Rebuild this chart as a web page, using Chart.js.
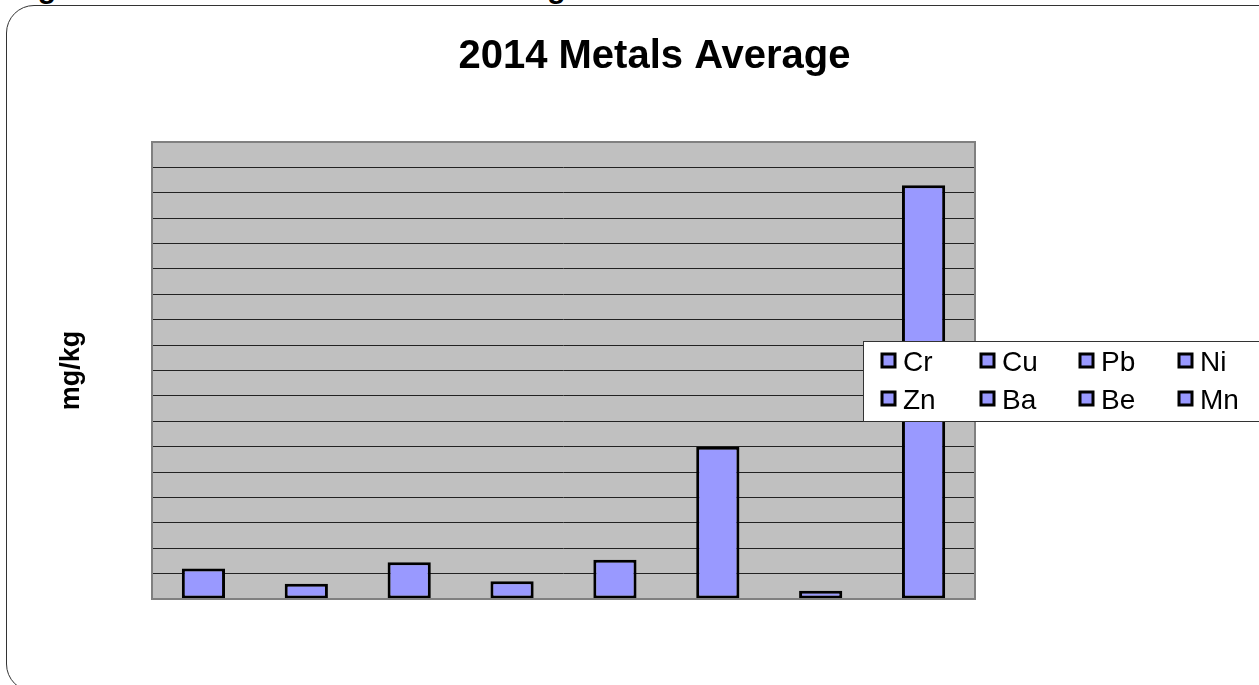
<!DOCTYPE html>
<html>
<head>
<meta charset="utf-8">
<script src="https://cdn.jsdelivr.net/npm/chart.js@4"></script>
<style>
  html, body { margin: 0; padding: 0; background: #fff; overflow: hidden; }
  body { width: 1259px; height: 685px; position: relative; font-family: Arial, 'Liberation Sans', sans-serif; }
  #caption { position: absolute; left: 11px; top: -29px; font-weight: bold; font-size: 30px; white-space: nowrap; color: #000; }
  #frame { position: absolute; left: 6px; top: 5px; width: 1300px; height: 687px; border: 1px solid #333; border-radius: 28px; box-sizing: border-box; }
  #wrap { position: absolute; left: 0; top: 0; width: 1259px; height: 685px; }
</style>
</head>
<body>
<div id="caption">Figure 6: 2014 Sediment Metals Averages</div>
<div id="frame"></div>
<div id="wrap"><canvas id="grafico"></canvas></div>
<script>
// dados
var metais = ['Cr', 'Cu', 'Pb', 'Ni', 'Zn', 'Ba', 'Be', 'Mn'];
var medias = [24, 12, 29, 14, 31, 120, 6.5, 326]; // mg/kg
var escalaMax = 360;
var escalaPasso = 20;

var corBarra = '#9999FF';

// fundo cinza da area do grafico + borda
var fundoPlot = {
    id: 'fundoPlot',
    beforeDraw: function (chart) {
        var a = chart.chartArea, ctx = chart.ctx;
        ctx.save();
        ctx.fillStyle = '#C0C0C0';
        ctx.fillRect(a.left, a.top, a.right - a.left, a.bottom - a.top);
        ctx.restore();
    },
    afterDatasetsDraw: function (chart) {
        var a = chart.chartArea, ctx = chart.ctx;
        ctx.save();
        ctx.strokeStyle = '#808080';
        ctx.lineWidth = 2;
        ctx.strokeRect(a.left, a.top, a.right - a.left, a.bottom - a.top);
        ctx.restore();
    }
};

// legenda sobreposta (2 linhas x 4 colunas)
var legendaCaixa = {
    id: 'legendaCaixa',
    afterDraw: function (chart) {
        var ctx = chart.ctx;
        var x0 = 863, y0 = 341, w = 420, h = 80;
        ctx.save();
        ctx.fillStyle = '#fff';
        ctx.fillRect(x0, y0, w, h);
        ctx.strokeStyle = '#333';
        ctx.lineWidth = 1;
        ctx.strokeRect(x0 + 0.5, y0 + 0.5, w, h);
        ctx.font = '28px Arial, "Liberation Sans", sans-serif';
        ctx.textBaseline = 'middle';
        chart.data.labels.forEach(function (nome, i) {
            var col = i % 4, lin = Math.floor(i / 4);
            var x = x0 + 19 + col * 99;
            var y = y0 + 20 + lin * 38;
            ctx.fillStyle = corBarra;
            ctx.fillRect(x, y - 7, 13, 13);
            ctx.strokeStyle = '#000';
            ctx.lineWidth = 3;
            ctx.strokeRect(x, y - 7, 13, 13);
            ctx.fillStyle = '#000';
            ctx.fillText(nome, x + 21, y + 2);
        });
        ctx.restore();
    }
};

new Chart(document.getElementById('grafico').getContext('2d'), {
    type: 'bar',
    data: {
        labels: metais,
        datasets: [{
            label: '2014 Metals Average',
            data: medias,
            backgroundColor: corBarra,
            borderColor: '#000',
            borderWidth: 3,
            borderSkipped: false,
            barPercentage: 0.42,
            categoryPercentage: 1
        }]
    },
    options: {
        responsive: true,
        maintainAspectRatio: false,
        animation: false,
        layout: { padding: { left: 50, right: 0, top: 0, bottom: 86 } },
        plugins: {
            legend: { display: false },
            tooltip: { enabled: false },
            title: {
                display: true,
                text: '2014 Metals Average',
                color: '#000',
                font: { family: 'Arial, "Liberation Sans", sans-serif', size: 40, weight: 'bold' },
                padding: { top: 33, bottom: 61 }
            }
        },
        scales: {
            x: {
                display: false,
                grid: { display: false }
            },
            y: {
                min: 0,
                max: escalaMax,
                ticks: { display: false, stepSize: escalaPasso },
                border: { display: false },
                grid: { color: '#222', lineWidth: 1, drawTicks: false },
                title: {
                    display: true,
                    text: 'mg/kg',
                    color: '#000',
                    font: { family: 'Arial, "Liberation Sans", sans-serif', size: 27, weight: 'bold' },
                    padding: { top: 5, bottom: 0 }
                },
                afterFit: function (scale) { scale.width = 102; }
            },
            espacoDireita: {
                type: 'linear',
                position: 'right',
                display: true,
                ticks: { display: false },
                grid: { display: false },
                border: { display: false },
                afterFit: function (scale) { scale.width = 284; }
            }
        }
    },
    plugins: [fundoPlot, legendaCaixa]
});
</script>
</body>
</html>
